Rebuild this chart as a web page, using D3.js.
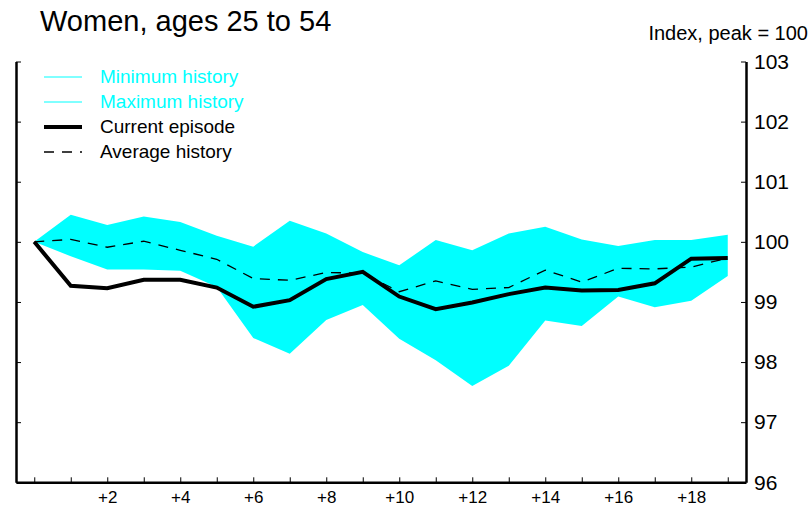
<!DOCTYPE html>
<html>
<head>
<meta charset="utf-8">
<script src="https://cdn.jsdelivr.net/npm/d3@7"></script>
<style>
  body { margin: 0; background: #fff; }
  text { font-family: "Liberation Sans", Arial, sans-serif; }
</style>
</head>
<body>
<div id="chart"></div>
<script>
// Months since peak, and index values (peak = 100)
const months = d3.range(0, 20);
const current = [100, 99.27, 99.23, 99.37, 99.37, 99.24, 98.92, 99.03, 99.38, 99.5,
                 99.09, 98.88, 98.99, 99.13, 99.24, 99.19, 99.2, 99.31, 99.72, 99.73];
const average = [100, 100.04, 99.91, 100.01, 99.86, 99.71, 99.39, 99.36, 99.49, 99.48,
                 99.17, 99.35, 99.21, 99.24, 99.53, 99.33, 99.56, 99.55, 99.58, 99.73];
const maxHist = [100, 100.45, 100.28, 100.42, 100.33, 100.1, 99.92, 100.35, 100.14, 99.83,
                 99.61, 100.03, 99.86, 100.14, 100.25, 100.04, 99.93, 100.03, 100.03, 100.12];
const minHist = [100, 99.76, 99.54, 99.54, 99.52, 99.25, 98.4, 98.14, 98.7, 98.95,
                 98.39, 98.03, 97.6, 97.94, 98.69, 98.6, 99.09, 98.91, 99.02, 99.43];
const yTicks = [96, 97, 98, 99, 100, 101, 102, 103];
const xLabelTicks = [2, 4, 6, 8, 10, 12, 14, 16, 18];

const width = 812, height = 510;
const cyan = "#00ffff";

const svg = d3.select("#chart").append("svg")
    .attr("width", width)
    .attr("height", height);

const x = d3.scaleLinear().domain([-0.5, 19.5]).range([16, 746]);
const y = d3.scaleLinear().domain([96, 103]).range([482.3, 61.5]);

// band between min and max history
const area = d3.area()
    .x((d, i) => x(months[i]))
    .y0((d, i) => y(minHist[i]))
    .y1((d, i) => y(maxHist[i]));

svg.append("path")
    .datum(months)
    .attr("fill", cyan)
    .attr("d", area);

const line = d3.line()
    .x((d, i) => x(months[i]))
    .y(d => y(d));

svg.append("path")
    .datum(average)
    .attr("fill", "none")
    .attr("stroke", "#000")
    .attr("stroke-width", 1.3)
    .attr("stroke-dasharray", "10,8")
    .attr("d", line);

svg.append("path")
    .datum(current)
    .attr("fill", "none")
    .attr("stroke", "#000")
    .attr("stroke-width", 4)
    .attr("d", line);

// axes
const xAxis = svg.append("g")
    .attr("transform", `translate(0,${y(96)})`)
    .call(d3.axisBottom(x).tickValues(months).tickSizeInner(-5).tickSizeOuter(0)
        .tickFormat(d => xLabelTicks.includes(d) ? "+" + d : ""));
xAxis.select(".domain").attr("stroke-width", 2.5);
xAxis.selectAll("text")
    .attr("y", 9)
    .attr("font-size", 17)
    .attr("font-family", "Liberation Sans, Arial, sans-serif");

const yRight = svg.append("g")
    .attr("transform", `translate(${x(19.5)},0)`)
    .call(d3.axisRight(y).tickValues(yTicks).tickSizeInner(-5).tickSizeOuter(0)
        .tickFormat(d3.format("d")));
yRight.select(".domain").attr("stroke-width", 2.5);
yRight.selectAll("text")
    .attr("x", 8)
    .attr("font-size", 21)
    .attr("font-family", "Liberation Sans, Arial, sans-serif");

const yLeft = svg.append("g")
    .attr("transform", `translate(${x(-0.5)},0)`)
    .call(d3.axisLeft(y).tickValues(yTicks).tickSizeInner(-5).tickSizeOuter(0)
        .tickFormat(""));
yLeft.select(".domain").attr("stroke-width", 2.5);

// titles
svg.append("text")
    .attr("x", 40).attr("y", 31)
    .attr("font-size", 29)
    .text("Women, ages 25 to 54");

svg.append("text")
    .attr("x", 808).attr("y", 40)
    .attr("text-anchor", "end")
    .attr("font-size", 20)
    .text("Index, peak = 100");

// legend
const legend = [
    { label: "Minimum history", color: cyan, width: 1, dash: null },
    { label: "Maximum history", color: cyan, width: 1, dash: null },
    { label: "Current episode", color: "#000", width: 4, dash: null },
    { label: "Average history", color: "#000", width: 1.3, dash: "10,8" }
];
const lg = svg.append("g");
legend.forEach((d, i) => {
    const ly = 77 + i * 25;
    lg.append("line")
        .attr("x1", 44).attr("x2", 82)
        .attr("y1", ly).attr("y2", ly)
        .attr("stroke", d.color)
        .attr("stroke-width", d.width)
        .attr("stroke-dasharray", d.dash);
    lg.append("text")
        .attr("x", 100).attr("y", ly + 6)
        .attr("font-size", 19)
        .attr("fill", d.color)
        .text(d.label);
});
</script>
</body>
</html>
